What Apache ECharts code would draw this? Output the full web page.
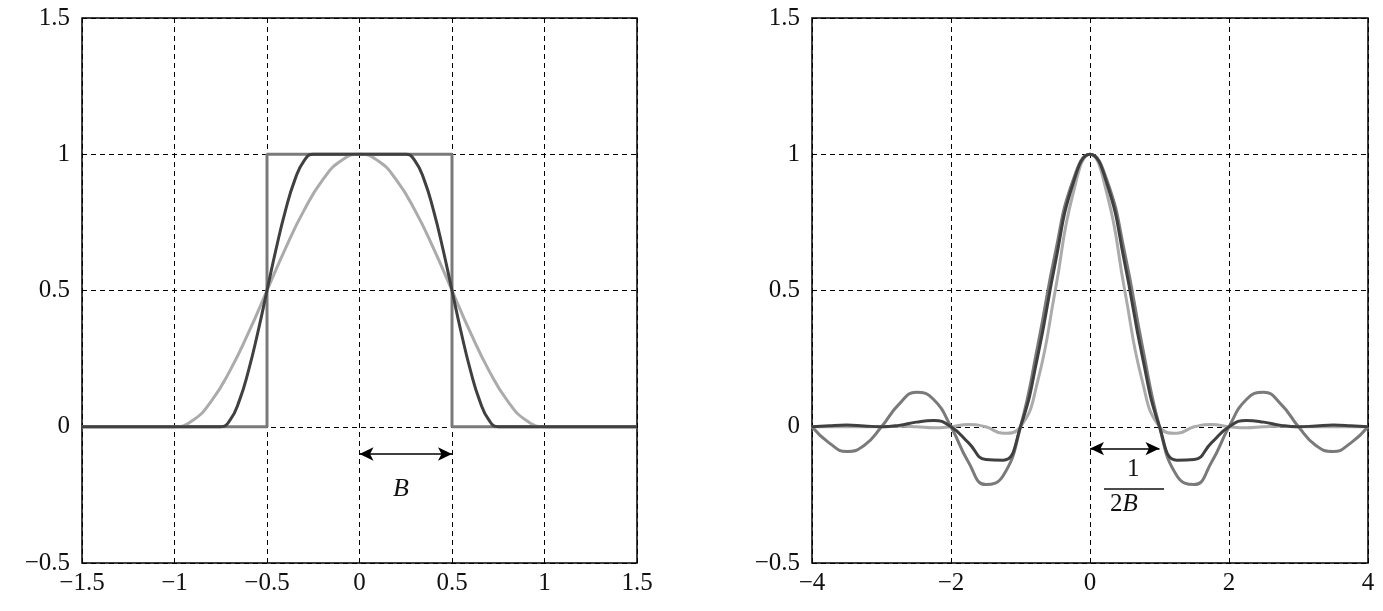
<!DOCTYPE html>
<html lang="en">
<head>
<meta charset="UTF-8">
<style>
  body { margin: 0; background: #fff; }
  #chart { width: 1383px; height: 611px; }
</style>
</head>
<body>
<div id="chart"></div>
<script src="https://cdn.jsdelivr.net/npm/echarts@6/dist/echarts.min.js"></script>
<script>
// left panel: spectra (frequency, amplitude)
const rectSpec = [[-1.5, 0], [-0.5, 0], [-0.5, 1], [0.5, 1], [0.5, 0], [1.5, 0]];
const halfF = [0.25, 0.3, 0.35, 0.4, 0.45, 0.5, 0.55, 0.6, 0.65, 0.7, 0.75];
const fullF = [0, 0.1, 0.2, 0.3, 0.4, 0.5, 0.6, 0.7, 0.8, 0.9, 1.0];
const rollVals = [1, 0.976, 0.905, 0.794, 0.655, 0.5, 0.345, 0.206, 0.095, 0.024, 0];

// right panel: impulse responses at t = 0, 0.25, ... 4 (symmetric)
const tVals = [0, 0.25, 0.5, 0.75, 1, 1.25, 1.5, 1.75, 2, 2.25, 2.5, 2.75, 3, 3.25, 3.5, 3.75, 4];
const sincVals = [1, 0.9, 0.637, 0.3, 0, -0.18, -0.212, -0.129, 0, 0.1, 0.127, 0.082, 0, -0.069, -0.091, -0.06, 0];
const halfVals = [1, 0.887, 0.6, 0.262, 0, -0.1225, -0.12, -0.058, 0, 0.023, 0.017, 0.005, 0, 0.003, 0.006, 0.004, 0];
const fullVals = [1, 0.849, 0.5, 0.17, 0, -0.024, 0, 0.008, 0, -0.004, 0, 0.002, 0, 0, 0, 0, 0];

const xTicksLeft = { min: -1.5, max: 1.5, interval: 0.5 };
const xTicksRight = { min: -4, max: 4, interval: 2 };
const yTicks = { min: -0.5, max: 1.5, interval: 0.5 };

const cDark = '#404040', cMid = '#7a7a7a', cLight = '#ababab';

function spectrum(fs, vs) {
  const pos = fs.map((f, i) => [f, vs[i]]);
  const neg = fs.map((f, i) => [-f, vs[i]]).reverse();
  const out = [[-1.5, 0]].concat(neg, pos.slice(fs[0] === 0 ? 1 : 0), [[1.5, 0]]);
  if (fs[0] !== 0) out.splice(neg.length + 1, 0);
  return out;
}
function impulse(vs) {
  const pos = tVals.map((t, i) => [t, vs[i]]);
  const neg = tVals.slice(1).map((t, i) => [-t, vs[i + 1]]).reverse();
  return neg.concat(pos);
}

const fmt = v => String(v).replace('-', '\u2212');
const font = { fontFamily: 'Liberation Serif', fontSize: 25, color: '#111' };

function xAxis(idx, t) {
  return {
    type: 'value', gridIndex: idx, min: t.min, max: t.max, interval: t.interval,
    axisLine: { show: false }, axisTick: { show: false },
    axisLabel: Object.assign({ formatter: fmt, margin: 8 }, font),
    splitLine: { lineStyle: { color: '#000', type: [5, 4], width: 1 } }
  };
}
function yAxis(idx) {
  return {
    type: 'value', gridIndex: idx, min: yTicks.min, max: yTicks.max, interval: yTicks.interval,
    axisLine: { show: false }, axisTick: { show: false },
    axisLabel: Object.assign({ formatter: fmt, margin: 12 }, font),
    splitLine: { lineStyle: { color: '#000', type: [5, 4], width: 1 } }
  };
}
function line(idx, data, color, smooth, extra) {
  return Object.assign({
    type: 'line', xAxisIndex: idx, yAxisIndex: idx, data: data, showSymbol: false,
    smooth: smooth, lineStyle: { color: color, width: 3 }, z: 3
  }, extra || {});
}
function arrow(x1, x2, y) {
  return {
    silent: true, symbol: ['arrow', 'arrow'], symbolSize: [10, 14],
    label: { show: false }, lineStyle: { color: '#000', width: 1.5, type: 'solid' },
    data: [[{ coord: [x1, y] }, { coord: [x2, y] }]]
  };
}

const chart = echarts.init(document.getElementById('chart'));
chart.setOption({
  animation: false,
  grid: [
    { left: 82, top: 18, width: 555, height: 545, show: true, borderColor: '#000', borderWidth: 1.5 },
    { left: 812, top: 18, width: 556, height: 545, show: true, borderColor: '#000', borderWidth: 1.5 }
  ],
  xAxis: [xAxis(0, xTicksLeft), xAxis(1, xTicksRight)],
  yAxis: [yAxis(0), yAxis(1)],
  series: [
    line(0, rectSpec, cMid, false),
    line(0, spectrum(fullF, rollVals), cLight, true),
    line(0, spectrum(halfF, rollVals), cDark, true, { markLine: arrow(0, 0.5, -0.1) }),
    line(1, impulse(sincVals), cMid, true),
    line(1, impulse(fullVals), cLight, true),
    line(1, impulse(halfVals), cDark, true, { markLine: arrow(0, 1, -0.08) })
  ],
  graphic: [
    { type: 'text', left: 393, top: 476, style: { text: 'B', font: 'italic 26px "Liberation Serif"', fill: '#111' } },
    { type: 'text', left: 1127, top: 457, style: { text: '1', font: '25px "Liberation Serif"', fill: '#111' } },
    { type: 'line', shape: { x1: 1104, y1: 489, x2: 1164, y2: 489 }, style: { stroke: '#111', lineWidth: 1.5 } },
    { type: 'text', left: 1110, top: 492, style: { rich: { a: { font: '25px "Liberation Serif"', fill: '#111' }, b: { font: 'italic 25px "Liberation Serif"', fill: '#111' } }, text: '{a|2}{b|B}' } }
  ]
});
</script>
</body>
</html>
